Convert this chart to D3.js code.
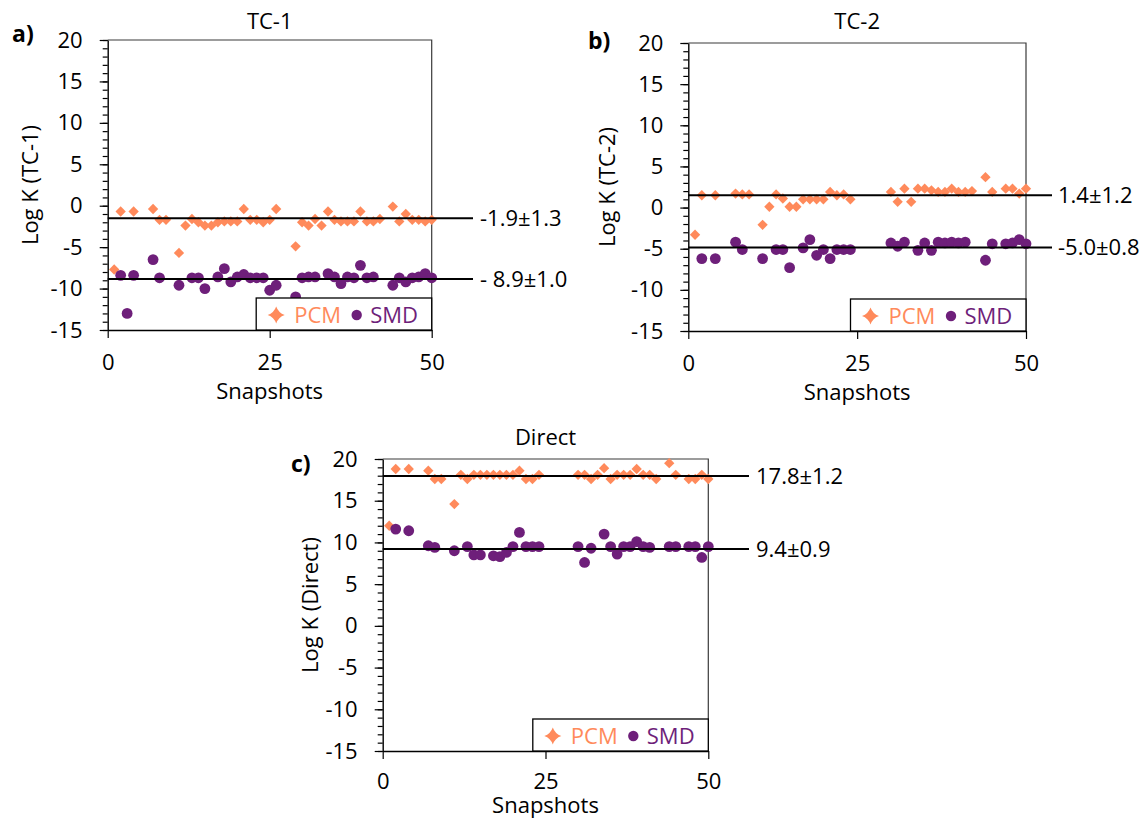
<!DOCTYPE html>
<html>
<head>
<meta charset="utf-8">
<script src="https://cdn.jsdelivr.net/npm/d3@7"></script>
<style>
  body { margin: 0; background: #fff; }
  svg { display: block; font-family: "Open Sans", sans-serif; }
</style>
</head>
<body>
<div id="chart"></div>
<script>
// [snapshot, log K]
const tc1Pcm = [[1,-7.7],[2,-0.7],[4,-0.7],[7,-0.4],[8,-1.7],[9,-1.7],[11,-5.7],[12,-2.4],[13,-1.6],[14,-2.0],
  [15,-2.4],[16,-2.4],[17,-2.0],[18,-1.9],[19,-1.9],[20,-1.9],[21,-0.4],[22,-1.7],[23,-1.7],[24,-2.0],[25,-1.7],
  [26,-0.4],[29,-4.9],[30,-2.0],[31,-2.4],[32,-1.6],[33,-2.4],[34,-0.7],[35,-1.7],[36,-1.9],[37,-1.9],[38,-1.9],
  [39,-0.7],[40,-1.9],[41,-1.9],[42,-1.6],[44,-0.1],[45,-1.9],[46,-1.0],[47,-1.7],[48,-1.7],[49,-1.9],[50,-1.7]];
const tc1Smd = [[2,-8.4],[3,-13.0],[4,-8.4],[7,-6.5],[8,-8.7],[11,-9.6],[13,-8.7],[14,-8.7],[15,-10.0],[17,-8.6],
  [18,-7.6],[19,-9.2],[20,-8.6],[21,-8.3],[22,-8.7],[23,-8.7],[24,-8.7],[25,-10.2],[26,-9.6],[29,-11.0],[30,-8.7],
  [31,-8.6],[32,-8.6],[34,-8.2],[35,-8.6],[36,-9.4],[37,-8.6],[38,-8.7],[39,-7.2],[40,-8.7],[41,-8.6],[44,-9.6],
  [45,-8.7],[46,-9.2],[47,-8.7],[48,-8.6],[49,-8.2],[50,-8.7]];

const tc2Pcm = [[1,-3.3],[2,1.5],[4,1.5],[7,1.7],[8,1.6],[9,1.6],[11,-2.1],[12,0.1],[13,1.6],[14,1.1],[15,0.1],
  [16,0.1],[17,1.0],[18,1.0],[19,1.0],[20,1.0],[21,1.9],[22,1.5],[23,1.6],[24,1.0],[30,1.9],[31,0.7],[32,2.3],
  [33,0.7],[34,2.3],[35,2.3],[36,2.1],[37,1.9],[38,1.9],[39,2.3],[40,1.9],[41,1.9],[42,2.0],[44,3.7],[45,1.9],
  [47,2.3],[48,2.3],[49,1.7],[50,2.3]];
const tc2Smd = [[2,-6.2],[4,-6.2],[7,-4.2],[8,-5.1],[11,-6.2],[13,-5.1],[14,-5.1],[15,-7.3],[17,-4.9],[18,-3.9],
  [19,-5.8],[20,-5.1],[21,-6.2],[22,-5.1],[23,-5.1],[24,-5.1],[30,-4.3],[31,-4.7],[32,-4.2],[34,-5.2],[35,-4.3],
  [36,-5.2],[37,-4.2],[38,-4.3],[39,-4.2],[40,-4.3],[41,-4.2],[44,-6.4],[45,-4.4],[47,-4.4],[48,-4.3],[49,-3.9],
  [50,-4.4]];

const directPcm = [[1,12.0],[2,18.8],[4,18.8],[7,18.6],[8,17.6],[9,17.6],[11,14.6],[12,18.1],[13,17.6],[14,18.1],
  [15,18.1],[16,18.1],[17,18.1],[18,18.1],[19,18.1],[20,18.1],[21,18.6],[22,17.6],[23,17.6],[24,18.1],[30,18.1],
  [31,18.1],[32,17.6],[33,18.1],[34,18.9],[35,17.6],[36,18.1],[37,18.1],[38,18.1],[39,18.8],[40,18.1],[41,18.1],
  [42,17.6],[44,19.5],[45,18.1],[47,17.6],[48,17.6],[49,18.1],[50,17.6]];
const directSmd = [[2,11.6],[4,11.4],[7,9.6],[8,9.4],[11,9.0],[13,9.5],[14,8.5],[15,8.5],[17,8.4],[18,8.3],
  [19,8.8],[20,9.5],[21,11.2],[22,9.5],[23,9.5],[24,9.5],[30,9.5],[31,7.6],[32,9.3],[34,11.0],[35,9.5],[36,8.6],
  [37,9.5],[38,9.5],[39,10.1],[40,9.5],[41,9.4],[44,9.5],[45,9.5],[47,9.5],[48,9.5],[49,8.2],[50,9.5]];

// horizontal mean lines and their labels
const tc1Means = [-1.5, -8.85];
const tc1MeanText = ["-1.9\u00b11.3", "- 8.9\u00b11.0"];
const tc2Means = [1.5, -4.85];
const tc2MeanText = ["1.4\u00b11.2", "-5.0\u00b10.8"];
const directMeans = [17.95, 9.2];
const directMeanText = ["17.8\u00b11.2", "9.4\u00b10.9"];

const xTicks = [0, 25, 50];
const yTicks = [-15, -10, -5, 0, 5, 10, 15, 20];
const seriesNames = ["PCM", "SMD"];

const pcmColor = "#ff8a5b";
const smdColor = "#6e1f7a";

const panels = [
  {tag: "a)", title: "TC-1", yLabel: "Log K (TC-1)", pcm: tc1Pcm, smd: tc1Smd, means: tc1Means, meanText: tc1MeanText,
   x0: 107.7, x1: 431.7, top: 40, bottom: 330, tagPos: [12, 42], yLabelX: 38, titleY: 28.5, snapY: 399, tickPad: 16, lineEnd: 473, textX: 480},
  {tag: "b)", title: "TC-2", yLabel: "Log K (TC-2)", pcm: tc2Pcm, smd: tc2Smd, means: tc2Means, meanText: tc2MeanText,
   x0: 688.3, x1: 1026, top: 43, bottom: 331, tagPos: [588, 48.5], yLabelX: 615, titleY: 28.5, snapY: 400, tickPad: 16, lineEnd: 1052, textX: 1058},
  {tag: "c)", title: "Direct", yLabel: "Log K (Direct)", pcm: directPcm, smd: directSmd, means: directMeans, meanText: directMeanText,
   x0: 382.7, x1: 708.3, top: 459, bottom: 751, tagPos: [291, 472], yLabelX: 318, titleY: 445, snapY: 813, tickPad: 14, lineEnd: 749, textX: 756}
];

const svg = d3.select("#chart").append("svg")
  .attr("width", 1146)
  .attr("height", 819);

// four point star for the legend
function star(cx, cy, R, k) {
  return `M${cx},${cy - R} Q${cx + k},${cy - k} ${cx + R},${cy} Q${cx + k},${cy + k} ${cx},${cy + R}` +
    ` Q${cx - k},${cy + k} ${cx - R},${cy} Q${cx - k},${cy - k} ${cx},${cy - R}Z`;
}

panels.forEach(p => {
  const x = d3.scaleLinear().domain([0, 50]).range([p.x0, p.x1]);
  const y = d3.scaleLinear().domain([-15, 20]).range([p.bottom, p.top]);
  const g = svg.append("g");

  // frame (top / right)
  g.append("path")
    .attr("d", `M${p.x0},${p.top}H${p.x1}V${p.bottom}`)
    .attr("fill", "none")
    .attr("stroke", "#3a3a3a")
    .attr("stroke-width", 1.2);

  // minor y ticks
  g.append("g")
    .attr("transform", `translate(${p.x0},0)`)
    .call(d3.axisLeft(y).tickValues(d3.range(-15, 21, 1)).tickSize(5).tickFormat("").tickSizeOuter(0))
    .call(a => a.select(".domain").remove())
    .call(a => a.selectAll("line").attr("stroke", "#000").attr("stroke-width", 1.2));

  // major y axis
  g.append("g")
    .attr("transform", `translate(${p.x0},0)`)
    .call(d3.axisLeft(y).tickValues(yTicks).tickSize(8).tickPadding(17).tickSizeOuter(0).tickFormat(d => String(d)))
    .call(a => a.select(".domain").attr("stroke", "#000").attr("stroke-width", 1.4))
    .call(a => a.selectAll("line").attr("stroke", "#000").attr("stroke-width", 1.2))
    .call(a => a.selectAll("text").attr("font-size", 22).attr("fill", "#000").attr("font-family", "Open Sans"));

  // x axis
  g.append("g")
    .attr("transform", `translate(0,${p.bottom})`)
    .call(d3.axisBottom(x).tickValues(xTicks).tickSize(8).tickPadding(p.tickPad).tickSizeOuter(0))
    .call(a => a.select(".domain").attr("stroke", "#000").attr("stroke-width", 1.4))
    .call(a => a.selectAll("line").attr("stroke", "#000").attr("stroke-width", 1.2))
    .call(a => a.selectAll("text").attr("font-size", 22).attr("fill", "#000").attr("font-family", "Open Sans"));

  // PCM diamonds
  g.append("g").selectAll("path")
    .data(p.pcm)
    .join("path")
    .attr("d", d3.symbol(d3.symbolDiamond2, 68)())
    .attr("transform", d => `translate(${x(d[0])},${y(d[1])})`)
    .attr("fill", pcmColor);

  // SMD circles
  g.append("g").selectAll("circle")
    .data(p.smd)
    .join("circle")
    .attr("cx", d => x(d[0]))
    .attr("cy", d => y(d[1]))
    .attr("r", 5.4)
    .attr("fill", smdColor);

  // mean lines + labels
  g.append("g").selectAll("line")
    .data(p.means)
    .join("line")
    .attr("x1", p.x0).attr("x2", p.lineEnd)
    .attr("y1", d => y(d)).attr("y2", d => y(d))
    .attr("stroke", "#000")
    .attr("stroke-width", 2);

  g.append("g").selectAll("text")
    .data(p.means)
    .join("text")
    .attr("x", p.textX)
    .attr("y", d => y(d) + 8)
    .attr("font-size", 22)
    .text((d, i) => p.meanText[i]);

  // legend box
  const lx = p.x1 - 175.5, ly = p.bottom - 32;
  const lg = g.append("g");
  lg.append("rect")
    .attr("x", lx).attr("y", ly)
    .attr("width", p.x1 - lx).attr("height", 32)
    .attr("fill", "#fff")
    .attr("stroke", "#000")
    .attr("stroke-width", 1.3);
  lg.append("path")
    .attr("d", star(lx + 20, ly + 17, 8.5, 2.2))
    .attr("fill", pcmColor);
  lg.append("text")
    .attr("x", lx + 38).attr("y", ly + 24.5)
    .attr("font-size", 22)
    .attr("fill", pcmColor)
    .text(seriesNames[0]);
  lg.append("circle")
    .attr("cx", lx + 100.5).attr("cy", ly + 17)
    .attr("r", 5.2)
    .attr("fill", smdColor);
  lg.append("text")
    .attr("x", lx + 114).attr("y", ly + 24.5)
    .attr("font-size", 22)
    .attr("fill", smdColor)
    .text(seriesNames[1]);

  // titles and labels
  g.append("text")
    .attr("x", (p.x0 + p.x1) / 2).attr("y", p.titleY)
    .attr("text-anchor", "middle")
    .attr("font-size", 22)
    .text(p.title);

  g.append("text")
    .attr("x", (p.x0 + p.x1) / 2).attr("y", p.snapY)
    .attr("text-anchor", "middle")
    .attr("font-size", 22)
    .text("Snapshots");

  g.append("text")
    .attr("transform", `translate(${p.yLabelX},${(p.top + p.bottom) / 2}) rotate(-90)`)
    .attr("text-anchor", "middle")
    .attr("font-size", 22)
    .text(p.yLabel);

  g.append("text")
    .attr("x", p.tagPos[0]).attr("y", p.tagPos[1])
    .attr("font-size", 23)
    .attr("font-weight", "bold")
    .text(p.tag);
});
</script>
</body>
</html>
